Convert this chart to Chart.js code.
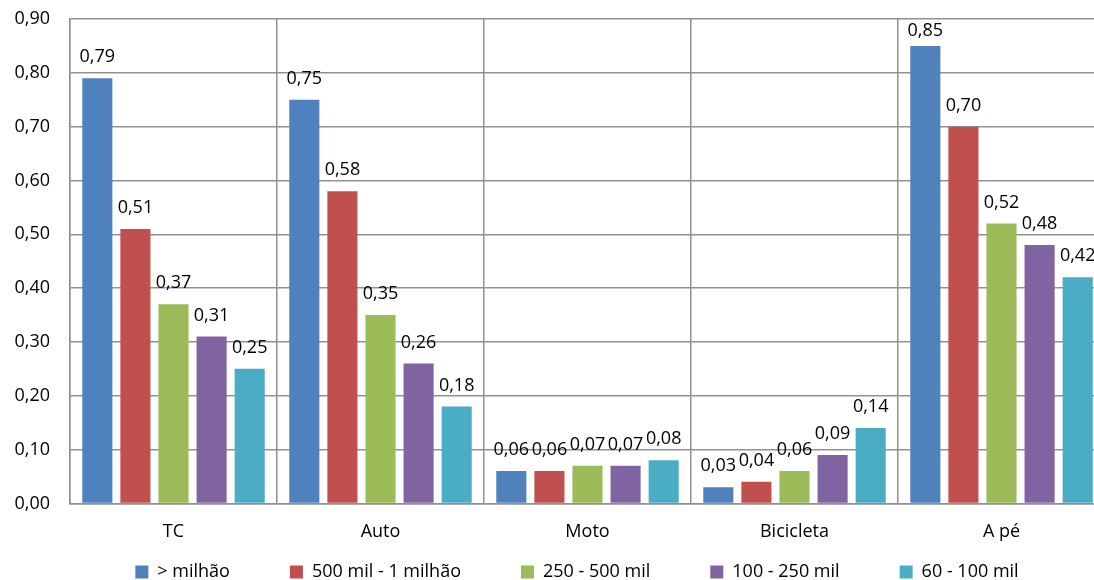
<!DOCTYPE html>
<html>
<head>
<meta charset="utf-8">
<script src="https://cdn.jsdelivr.net/npm/chart.js@4"></script>
<style>
  html, body { margin: 0; padding: 0; background: #fff; overflow: hidden; }
  #wrap { width: 1156px; height: 580px; }
</style>
</head>
<body>
<div id="wrap"><canvas id="chart" width="1156" height="580"></canvas></div>
<script>
// categorias e séries
const categories = ['TC', 'Auto', 'Moto', 'Bicicleta', 'A pé'];
const seriesNames = ['> milhão', '500 mil - 1 milhão', '250 - 500 mil', '100 - 250 mil', '60 - 100 mil'];
const milhao      = [0.79, 0.75, 0.06, 0.03, 0.85];
const mil500      = [0.51, 0.58, 0.06, 0.04, 0.70];
const mil250      = [0.37, 0.35, 0.07, 0.06, 0.52];
const mil100      = [0.31, 0.26, 0.07, 0.09, 0.48];
const mil60       = [0.25, 0.18, 0.08, 0.14, 0.42];
const colors = ['#4F81BD', '#C0504D', '#9BBB59', '#8064A2', '#4BACC6'];

const FONT = 'Open Sans';
const FSIZE = 18;
const LEGEND_PAD = 60;
const LEGEND_H = 19;
const GRID = '#919191';
const fmt = v => v.toFixed(2).replace('.', ',');

const datasets = [milhao, mil500, mil250, mil100, mil60].map((data, i) => ({
  label: seriesNames[i],
  data: data,
  backgroundColor: colors[i],
  borderWidth: 0,
  categoryPercentage: 0.92,
  barPercentage: 0.79
}));

// rótulos de valor acima das barras
const valueLabels = {
  id: 'valueLabels',
  afterDatasetsDraw(chart) {
    const ctx = chart.ctx;
    ctx.save();
    ctx.font = FSIZE + 'px "' + FONT + '"';
    ctx.fillStyle = '#000';
    ctx.textAlign = 'center';
    ctx.textBaseline = 'middle';
    chart.data.datasets.forEach((ds, i) => {
      chart.getDatasetMeta(i).data.forEach((bar, j) => {
        let y = bar.y - 21;
        if (y < 31) y = 31;
        ctx.fillText(fmt(ds.data[j]), bar.x, y);
      });
    });
    ctx.restore();
  }
};

// legenda: espaço largo entre itens sem ocupar altura extra
const legendSpacing = {
  id: 'legendSpacing',
  beforeLayout(chart) {
    const lg = chart.legend;
    if (!lg || lg._wrapped) return;
    lg._wrapped = true;
    const fit = lg.fit;
    lg.fit = function () { fit.call(this); this.height = LEGEND_H; };
    lg.draw = function () {
      const c = this.ctx;
      c.save();
      c.translate(18, -(LEGEND_PAD + 17 - LEGEND_H));
      this._draw();
      c.restore();
    };
  }
};

new Chart(document.getElementById('chart'), {
  type: 'bar',
  data: { labels: categories, datasets },
  plugins: [valueLabels, legendSpacing],
  options: {
    responsive: false,
    animation: false,
    layout: { padding: { top: 19, right: 51, left: 13, bottom: 0 } },
    scales: {
      x: {
        grid: { offset: true, color: GRID, lineWidth: 1.5, drawTicks: false },
        border: { color: GRID, width: 1.5 },
        ticks: { color: '#000', padding: 18, font: { family: FONT, size: FSIZE } }
      },
      y: {
        min: 0,
        max: 0.9,
        afterFit: s => { s.width = 57; s.paddingTop = 0; },
        grid: { color: GRID, lineWidth: 1.5, drawTicks: false },
        border: { color: GRID, width: 1.5 },
        ticks: {
          stepSize: 0.1,
          color: '#000',
          padding: 20,
          font: { family: FONT, size: FSIZE },
          callback: v => fmt(v)
        }
      }
    },
    plugins: {
      tooltip: { enabled: false },
      legend: {
        position: 'bottom',
        labels: {
          color: '#000',
          boxWidth: 13,
          boxHeight: 13,
          padding: LEGEND_PAD,
          font: { family: FONT, size: FSIZE }
        }
      }
    }
  }
});
</script>
</body>
</html>
